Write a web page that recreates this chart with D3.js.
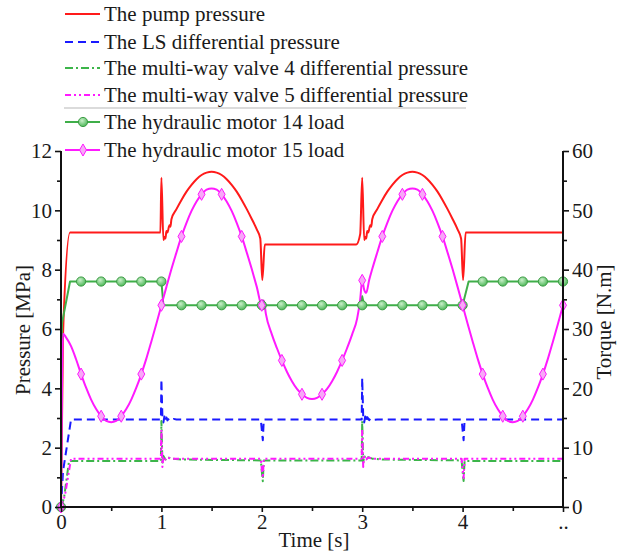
<!DOCTYPE html>
<html>
<head>
<meta charset="utf-8">
<script src="https://cdn.jsdelivr.net/npm/d3@7"></script>
<style>
  html, body { margin: 0; padding: 0; background: #fff; }
  svg { display: block; }
  text { font-family: "Liberation Serif", "Times New Roman", serif; fill: #1a1a1a; }
</style>
</head>
<body>
<svg id="chart" width="625" height="553"></svg>
<script>
// ---- data: [time s, value] ----
// pump pressure (MPa, left axis)
const pumpPressure = [
  [0,0],[0.02,5.8],[0.09,9.25],[0.99,9.25],[1.0,11.1],[1.02,9.0],[1.03,9.1],[1.04,9.05],
  [1.05,9.3],[1.06,9.25],[1.08,9.5],[1.09,9.45],[1.1,9.7],[1.15,10.04],[1.2,10.35],[1.25,10.63],
  [1.3,10.86],[1.35,11.05],[1.4,11.19],[1.45,11.27],[1.5,11.3],[1.55,11.27],[1.6,11.19],
  [1.65,11.05],[1.7,10.86],[1.75,10.63],[1.8,10.35],[1.85,10.04],[1.9,9.71],[1.95,9.36],
  [1.985,9.05],[2.005,7.65],[2.03,8.85],[2.94,8.85],[2.98,9.2],[3.0,11.1],[3.02,9.0],[3.03,9.1],
  [3.04,9.05],[3.05,9.3],[3.06,9.25],[3.08,9.5],[3.09,9.45],[3.1,9.7],[3.15,10.04],[3.2,10.35],
  [3.25,10.63],[3.3,10.86],[3.35,11.05],[3.4,11.19],[3.45,11.27],[3.5,11.3],[3.55,11.27],
  [3.6,11.19],[3.65,11.05],[3.7,10.86],[3.75,10.63],[3.8,10.35],[3.85,10.04],[3.9,9.71],
  [3.95,9.36],[3.985,9.05],[4.005,7.65],[4.03,9.25],[5.0,9.25]
];
// LS differential pressure (MPa, left axis)
const lsDiffPressure = [
  [0,0],[0.02,1.2],[0.1,2.95],[0.995,2.95],[1.0,4.3],[1.01,3.05],[1.02,2.85],[1.03,3.05],
  [1.04,2.9],[1.05,3.02],[1.06,2.92],[1.08,2.99],[1.1,2.94],[1.12,2.97],[1.15,2.95],
  [1.99,2.95],[2.0,2.6],[2.01,2.25],[2.02,2.95],[2.995,2.95],[3.0,4.35],[3.01,3.05],
  [3.02,2.85],[3.03,3.05],[3.04,2.9],[3.05,3.03],[3.07,2.93],[3.09,2.99],[3.12,2.94],
  [3.15,2.95],[3.99,2.95],[4.0,2.6],[4.01,2.25],[4.02,2.95],[5.0,2.95]
];
// multi-way valve 4 differential pressure (MPa, left axis)
const valve4DiffPressure = [
  [0,0],[0.03,0.3],[0.08,1.55],[0.995,1.55],[1.0,2.9],[1.01,1.5],[1.02,1.72],[1.04,1.6],
  [1.06,1.68],[1.1,1.63],[1.2,1.6],[1.99,1.57],[2.0,1.2],[2.01,0.87],[2.02,1.57],
  [2.995,1.57],[3.0,2.9],[3.01,1.5],[3.02,1.72],[3.04,1.6],[3.06,1.68],[3.1,1.63],
  [3.2,1.6],[3.99,1.57],[4.0,1.2],[4.01,0.88],[4.02,1.55],[5.0,1.55]
];
// multi-way valve 5 differential pressure (MPa, left axis)
const valve5DiffPressure = [
  [0,0],[0.04,0.4],[0.1,1.63],[0.995,1.63],[1.0,2.6],[1.01,1.35],[1.02,1.7],[1.04,1.6],
  [1.06,1.67],[1.1,1.63],[1.99,1.63],[2.0,1.3],[2.01,0.98],[2.02,1.63],[2.995,1.63],
  [3.0,2.6],[3.01,1.35],[3.02,1.7],[3.04,1.6],[3.06,1.67],[3.1,1.63],[3.99,1.63],
  [4.0,1.3],[4.01,0.98],[4.02,1.63],[5.0,1.63]
];
// hydraulic motor 14 load (N.m, right axis)
const motor14Load = [
  [0,0],[0.005,25],[0.01,31],[0.09,38],[1.0,38],[1.02,34],[2.0,34],[2.01,34.8],[2.02,34],
  [2.99,34],[3.0,35.5],[3.02,34],[4.0,34],[4.06,38],[5.0,38]
];
// hydraulic motor 15 load (N.m, right axis)
const motor15Load = [
  [0,0],[0.01,20],[0.02,29.2],[0.05,28.6],[0.1,27.1],[0.15,24.9],[0.2,22.4],[0.25,20.1],
  [0.3,18.1],[0.35,16.5],[0.4,15.3],[0.45,14.5],[0.5,14.3],[0.55,14.5],[0.6,15.3],
  [0.65,16.5],[0.7,18.1],[0.75,20.1],[0.8,22.4],[0.85,25.0],[0.9,27.9],[0.95,30.9],
  [1.0,34.0],[1.05,37.1],[1.1,40.1],[1.15,42.9],[1.2,45.6],[1.25,47.9],[1.3,49.9],
  [1.35,51.5],[1.4,52.7],[1.45,53.5],[1.5,53.7],[1.55,53.5],[1.6,52.7],[1.65,51.5],
  [1.7,49.9],[1.75,47.9],[1.8,45.6],[1.85,42.9],[1.9,40.1],[1.95,37.1],[2.0,34.0],
  [2.02,34.8],[2.04,32.6],[2.1,29.1],[2.15,26.8],[2.2,24.7],[2.25,22.8],[2.3,21.2],
  [2.35,19.9],[2.4,19.0],[2.45,18.4],[2.5,18.2],[2.55,18.4],[2.6,19.0],[2.65,19.9],
  [2.7,21.2],[2.75,22.8],[2.8,24.7],[2.85,26.8],[2.9,29.1],[2.95,31.8],[2.98,35.0],
  [3.0,38.2],[3.02,36.6],[3.04,36.1],[3.07,38.3],[3.1,40.1],[3.15,42.9],[3.2,45.6],
  [3.25,47.9],[3.3,49.9],[3.35,51.5],[3.4,52.7],[3.45,53.5],[3.5,53.7],[3.55,53.5],
  [3.6,52.7],[3.65,51.5],[3.7,49.9],[3.75,47.9],[3.8,45.6],[3.85,42.9],[3.9,40.1],
  [3.95,37.1],[4.0,34.0],[4.05,30.9],[4.1,27.9],[4.15,25.0],[4.2,22.4],[4.25,20.1],
  [4.3,18.1],[4.35,16.5],[4.4,15.3],[4.45,14.5],[4.5,14.3],[4.55,14.5],[4.6,15.3],
  [4.65,16.5],[4.7,18.1],[4.75,20.1],[4.8,22.4],[4.85,25.0],[4.9,27.9],[4.95,30.9],
  [5.0,34.0]
];
// symbol positions on the two motor curves
const markerTimes   = [0,0.2,0.4,0.6,0.8,1.0,1.2,1.4,1.6,1.8,2.0,2.2,2.4,2.6,2.8,3.0,3.2,3.4,3.6,3.8,4.0,4.2,4.4,4.6,4.8,5.0];
const motor14Marks  = [0,38,38,38,38,38,34,34,34,34,34,34,34,34,34,34,34,34,34,34,34,38,38,38,38,38];
const motor15Marks  = [0,22.4,15.3,15.3,22.4,34.0,45.6,52.7,52.7,45.6,34.0,24.7,19.0,19.0,24.7,38.2,45.6,52.7,52.7,45.6,34.0,22.4,15.3,15.3,22.4,34.0];

// ---- axes definitions ----
const timeTicks      = [0,1,2,3,4,5];
const timeTickLabels = ["0","1","2","3","4",".."];
const timeMinor      = [0.5,1.5,2.5,3.5,4.5];
const pressureTicks  = [0,2,4,6,8,10,12];
const pressureMinor  = [1,3,5,7,9,11];
const torqueTicks    = [0,10,20,30,40,50,60];
const torqueMinor    = [5,15,25,35,45,55];

const legendLabels = [
  "The pump pressure",
  "The LS differential pressure",
  "The multi-way valve 4 differential pressure",
  "The multi-way valve 5 differential pressure",
  "The hydraulic motor 14 load",
  "The hydraulic motor 15 load"
];

// ---- layout ----
const svg = d3.select("#chart");
const plot = { left: 61, right: 563, top: 151, bottom: 507 };

const x  = d3.scaleLinear().domain([0,5]).range([plot.left, plot.right]);
const yL = d3.scaleLinear().domain([0,12]).range([plot.bottom, plot.top]);
const yR = d3.scaleLinear().domain([0,60]).range([plot.bottom, plot.top]);

const RED = "#ff1a1a", BLUE = "#1a1aff", GREEN_DASH = "#3cb54a", MAGENTA = "#ff1aff", GREEN = "#3fae49";

const defs = svg.append("defs");
const grad = defs.append("radialGradient").attr("id", "ballGreen")
  .attr("cx", "40%").attr("cy", "35%").attr("r", "65%");
grad.append("stop").attr("offset", "0%").attr("stop-color", "#c9efc9");
grad.append("stop").attr("offset", "100%").attr("stop-color", "#4fb85a");

// ---- series ----
const lineL = d3.line().x(d => x(d[0])).y(d => yL(d[1]));
const lineLsmooth = d3.line().x(d => x(d[0])).y(d => yL(d[1])).curve(d3.curveMonotoneX);
const lineR = d3.line().x(d => x(d[0])).y(d => yR(d[1]));
const lineRsmooth = d3.line().x(d => x(d[0])).y(d => yR(d[1])).curve(d3.curveMonotoneX);

const series = svg.append("g").attr("fill", "none").attr("stroke-linejoin", "round");

series.append("path").attr("d", lineLsmooth(pumpPressure))
  .attr("stroke", RED).attr("stroke-width", 2);
series.append("path").attr("d", lineL(lsDiffPressure))
  .attr("stroke", BLUE).attr("stroke-width", 2).attr("stroke-dasharray", "8,5");
series.append("path").attr("d", lineL(valve4DiffPressure))
  .attr("stroke", GREEN_DASH).attr("stroke-width", 2).attr("stroke-dasharray", "8,3,2,3");
series.append("path").attr("d", lineL(valve5DiffPressure))
  .attr("stroke", MAGENTA).attr("stroke-width", 2).attr("stroke-dasharray", "6,3,2,3,2,3");
series.append("path").attr("d", lineR(motor14Load))
  .attr("stroke", GREEN).attr("stroke-width", 2);

const g14 = svg.append("g");
g14.selectAll("circle").data(markerTimes.map((t, i) => [t, motor14Marks[i]])).join("circle")
  .attr("cx", d => x(d[0])).attr("cy", d => yR(d[1])).attr("r", 4.6)
  .attr("fill", "url(#ballGreen)").attr("stroke", "#3c9c44").attr("stroke-width", 1);

series.append("path").attr("d", lineRsmooth(motor15Load))
  .attr("stroke", MAGENTA).attr("stroke-width", 2);

const diamond = d3.symbol().type(d3.symbolDiamond).size(42);
const g15 = svg.append("g");
g15.selectAll("path").data(markerTimes.map((t, i) => [t, motor15Marks[i]])).join("path")
  .attr("d", diamond)
  .attr("transform", d => `translate(${x(d[0])},${yR(d[1])})`)
  .attr("fill", "#f7a8f7").attr("stroke", MAGENTA).attr("stroke-width", 1);

// ---- axes ----
function styleAxis(g) {
  g.select(".domain").attr("stroke", "#111").attr("stroke-width", 2);
  g.selectAll(".tick line").attr("stroke", "#111").attr("stroke-width", 1.6);
  g.selectAll(".tick text").style("font-family", '"Liberation Serif", serif')
    .style("font-size", "21px").attr("fill", "#1a1a1a");
}

const xAxisG = svg.append("g").attr("transform", `translate(0,${plot.bottom})`)
  .call(d3.axisBottom(x).tickValues(timeTicks).tickSize(5).tickPadding(2)
    .tickFormat((d, i) => timeTickLabels[i]));
styleAxis(xAxisG);
const xMinorG = svg.append("g").attr("transform", `translate(0,${plot.bottom})`)
  .call(d3.axisBottom(x).tickValues(timeMinor).tickSize(4).tickFormat(""));
styleAxis(xMinorG);
xMinorG.select(".domain").remove();

const yLG = svg.append("g").attr("transform", `translate(${plot.left},0)`)
  .call(d3.axisLeft(yL).tickValues(pressureTicks).tickSize(6).tickPadding(3));
styleAxis(yLG);
const yLMinorG = svg.append("g").attr("transform", `translate(${plot.left},0)`)
  .call(d3.axisLeft(yL).tickValues(pressureMinor).tickSize(4).tickFormat(""));
styleAxis(yLMinorG);
yLMinorG.select(".domain").remove();

const yRG = svg.append("g").attr("transform", `translate(${plot.right},0)`)
  .call(d3.axisRight(yR).tickValues(torqueTicks).tickSize(6).tickPadding(3));
styleAxis(yRG);
const yRMinorG = svg.append("g").attr("transform", `translate(${plot.right},0)`)
  .call(d3.axisRight(yR).tickValues(torqueMinor).tickSize(4).tickFormat(""));
styleAxis(yRMinorG);
yRMinorG.select(".domain").remove();

// remove the outer end caps drawn by d3 on the domain paths
[xAxisG, yLG, yRG].forEach(g => g.select(".domain").attr("d", function () {
  return this.getAttribute("d").replace(/^M([-\d.]+),([-\d.]+)[VH]([-\d.]+)/, "M$1,$2");
}));
xAxisG.select(".domain").attr("d", `M${plot.left},0H${plot.right}`);
yLG.select(".domain").attr("d", `M0,${plot.top}V${plot.bottom}`);
yRG.select(".domain").attr("d", `M0,${plot.top}V${plot.bottom}`);

// ---- axis titles ----
svg.append("text").attr("x", (plot.left + plot.right) / 2 + 2).attr("y", 547)
  .attr("text-anchor", "middle").style("font-size", "21px").text("Time [s]");
svg.append("text").attr("transform", "translate(30,330) rotate(-90)")
  .attr("text-anchor", "middle").style("font-size", "21px").text("Pressure [MPa]");
svg.append("text").attr("transform", "translate(611,322) rotate(-90)")
  .attr("text-anchor", "middle").style("font-size", "21px").text("Torque [N.m]");

// ---- legend ----
const legendRows = [14, 42, 68, 95, 122, 150];
const lg = svg.append("g");
const legendStyles = [
  { stroke: RED, dash: null },
  { stroke: BLUE, dash: "8,5" },
  { stroke: GREEN_DASH, dash: "8,3,2,3" },
  { stroke: MAGENTA, dash: "6,3,2,3,2,3" },
  { stroke: GREEN, dash: null, marker: "circle" },
  { stroke: MAGENTA, dash: null, marker: "diamond" }
];
legendLabels.forEach((label, i) => {
  const yy = legendRows[i];
  const s = legendStyles[i];
  lg.append("line").attr("x1", 65).attr("x2", 100).attr("y1", yy).attr("y2", yy)
    .attr("stroke", s.stroke).attr("stroke-width", 2)
    .attr("stroke-dasharray", s.dash);
  if (s.marker === "circle") {
    lg.append("circle").attr("cx", 83).attr("cy", yy).attr("r", 4.6)
      .attr("fill", "url(#ballGreen)").attr("stroke", "#3c9c44");
  } else if (s.marker === "diamond") {
    lg.append("path").attr("d", diamond).attr("transform", `translate(83,${yy})`)
      .attr("fill", "#f7a8f7").attr("stroke", MAGENTA);
  }
  lg.append("text").attr("x", 104).attr("y", yy).attr("dy", "0.33em")
    .style("font-size", "21px").text(label);
});
lg.append("line").attr("x1", 64).attr("x2", 466).attr("y1", 108).attr("y2", 108)
  .attr("stroke", "#cfcfcf").attr("stroke-width", 1.5);
</script>
</body>
</html>
